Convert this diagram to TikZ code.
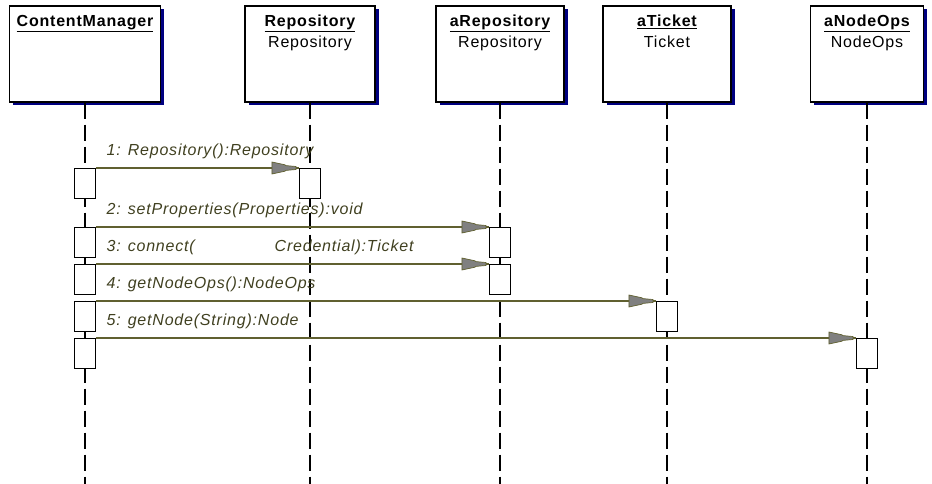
\documentclass[tikz,border=0pt]{standalone}
\usepackage{fontspec}
\setmainfont{Liberation Sans}[LetterSpace=5]
\usetikzlibrary{positioning,shadows,decorations.markings}
\definecolor{msgline}{RGB}{96,96,48}
\definecolor{msgtext}{RGB}{64,64,32}
\definecolor{headgray}{RGB}{128,128,128}
\definecolor{shadowblue}{RGB}{0,0,128}
\tikzstyle{objbox}=[rectangle, draw, fill=white, line width=1.2pt, minimum height=96pt,
    drop shadow={shadow xshift=3.5pt, shadow yshift=-3.5pt, fill=shadowblue, opacity=1}]
\tikzstyle{objname}=[inner sep=0pt, text height=12pt, text depth=4pt,
    font=\fontsize{16}{18}\selectfont\bfseries]
\tikzstyle{objclass}=[inner sep=0pt, text height=12pt, text depth=3.5pt,
    font=\fontsize{16}{18}\selectfont]
\tikzstyle{act}=[rectangle, draw, fill=white, line width=1.2pt, inner sep=0pt,
    minimum width=21pt, minimum height=30pt, anchor=north]
\tikzstyle{lifeline}=[draw, line width=1.3pt, dash pattern=on 16pt off 6pt]
\tikzstyle{msglabel}=[inner sep=0pt, pos=0, anchor=base west, xshift=10pt, yshift=12.5pt,
    text=msgtext, font=\fontsize{16}{18}\selectfont\itshape]
\newcommand{\headshape}{\filldraw[fill=headgray, draw=msgline, line width=0.7pt]
    (-3pt,-1.5pt) -- (-13pt,-2.4pt) -- (-14pt,-3.2pt) -- (-27pt,-6pt) --
    (-27pt,6pt) -- (-14pt,3.2pt) -- (-13pt,2.4pt) -- (-3pt,1.5pt) -- cycle;}
\tikzstyle{msg}=[draw=msgline, line width=1.1pt,
    postaction={decorate, decoration={markings, mark=at position 1 with {\headshape}}}]
\newcommand{\objbox}{\node[objbox]}
\newcommand{\actbox}{\node[act]}

\begin{document}
\begin{tikzpicture}[x=1pt, y=-1pt]
\useasboundingbox (0,0) rectangle (932,484);
\coordinate (bottom) at (0,484);

\objbox[minimum width=151pt] (cm) at (85,54) {};
\objbox[minimum width=130pt] (rep) at (310,54) {};
\objbox[minimum width=128pt] (arep) at (500,54) {};
\objbox[minimum width=128pt] (tkt) at (667,54) {};
\objbox[minimum width=113pt] (nops) at (867,54) {};

\node[objname, below=9pt of cm.north] (cmname) {\underline{ContentManager}};
\node[objname, below=9pt of rep.north] (repname) {\underline{Repository}};
\node[objclass, below=5pt of repname] (repclass) {Repository};
\node[objname, below=9pt of arep.north] (arepname) {\underline{aRepository}};
\node[objclass, below=5pt of arepname] (arepclass) {Repository};
\node[objname, below=9pt of tkt.north] (tktname) {\underline{aTicket}};
\node[objclass, below=5pt of tktname] (tktclass) {Ticket};
\node[objname, below=9pt of nops.north] (nopsname) {\underline{aNodeOps}};
\node[objclass, below=5pt of nopsname] (nopsclass) {NodeOps};

\foreach \o in {cm,rep,arep,tkt,nops}
    \draw[lifeline] (\o.south) -- (\o.south |- bottom);

\actbox (cm1) at (85,168) {};
\actbox (cm2) at (85,227) {};
\actbox (cm3) at (85,264) {};
\actbox (cm4) at (85,301) {};
\actbox (cm5) at (85,338) {};
\actbox (rep1) at (310,168) {};
\actbox (arep1) at (500,227) {};
\actbox (arep2) at (500,264) {};
\actbox (tkt1) at (667,301) {};
\actbox (nops1) at (867,338) {};

\draw[msg] (cm1.north east) -- node[msglabel] {1: Repository():Repository} (rep1.north west);
\draw[msg] (cm2.north east) -- node[msglabel] {2: setProperties(Properties):void} (arep1.north west);
\draw[msg] (cm3.north east) -- node[msglabel] {\makebox[168pt][l]{3: connect(}Credential):Ticket} (arep2.north west);
\draw[msg] (cm4.north east) -- node[msglabel] {4: getNodeOps():NodeOps} (tkt1.north west);
\draw[msg] (cm5.north east) -- node[msglabel] {5: getNode(String):Node} (nops1.north west);
\end{tikzpicture}
\end{document}
